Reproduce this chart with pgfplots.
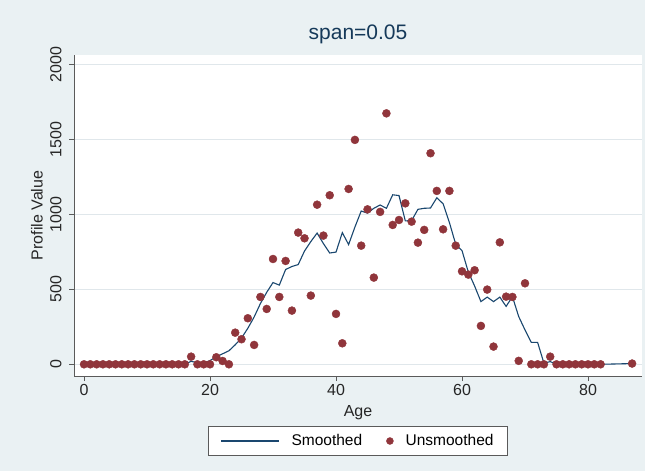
\documentclass[border=0pt]{standalone}
\usepackage{pgfplots}
\pgfplotsset{compat=1.18}
\usepackage{pgfplotstable}
\usepackage{fontspec}
\setmainfont{Liberation Sans}
\definecolor{bgc}{RGB}{234,241,243}
\definecolor{navyc}{RGB}{26,71,111}
\definecolor{maroonc}{RGB}{144,53,59}
\definecolor{gridc}{RGB}{224,231,235}
\definecolor{axc}{RGB}{90,90,90}

\pgfplotstableread{
age val
0 0
1 0
2 0
3 0
4 0
5 0
6 0
7 0
8 0
9 0
10 0
11 0
12 0
13 0
14 0
15 0
16 0
17 51
18 0
19 0
20 0
21 47
22 22
23 0
24 211
25 167
26 307
27 129
28 449
29 369
30 702
31 449
32 689
33 358
34 878
35 840
36 458
37 1064
38 858
39 1127
40 336
41 140
42 1169
43 1496
44 791
45 1033
46 578
47 1016
48 1673
49 929
50 962
51 1073
52 951
53 811
54 896
55 1407
56 1156
57 900
58 1156
59 791
60 620
61 598
62 627
63 256
64 498
65 118
66 813
67 451
68 449
69 23
70 540
71 0
72 0
73 0
74 51
75 0
76 0
77 0
78 0
79 0
80 0
81 0
82 0
87 5
}\unsmoothed

\pgfplotstableread{
age val
0 0
1 0
2 0
3 0
4 0
5 0
6 0
7 0
8 0
9 0
10 0
11 0
12 0
13 0
14 0
15 0
16 0
17 20
18 10
19 8
20 25
21 50
22 70
23 90
24 130
25 175
26 240
27 315
28 405
29 480
30 545
31 528
32 632
33 652
34 665
35 755
36 818
37 875
38 805
39 742
40 748
41 878
42 798
43 915
44 1022
45 1008
46 1040
47 1062
48 1040
49 1130
50 1125
51 956
52 958
53 1033
54 1040
55 1042
56 1110
57 1070
58 945
59 800
60 758
61 615
62 522
63 418
64 448
65 418
66 448
67 386
68 451
69 318
70 229
71 146
72 146
73 8
74 18
75 0
76 0
77 0
78 0
79 0
80 0
81 0
82 0
87 5
}\smoothed

\begin{document}
\begin{tikzpicture}[x=1pt,y=1pt]
\fill[bgc] (0,0) rectangle (645,471);
\begin{axis}[
  at={(74pt,95pt)}, anchor=south west,
  scale only axis, width=568pt, height=321pt,
  xmin=-1.59, xmax=88.57, ymin=-78, ymax=2062,
  axis background/.style={fill=white},
  axis x line*=bottom, axis y line*=left,
  axis line style={axc, line width=0.9pt, -},
  xtick={0,20,40,60,80}, ytick={0,500,1000,1500,2000},
  tick align=outside, major tick length=5pt,
  tick style={axc, line width=0.9pt},
  ymajorgrids, grid style={gridc, line width=0.8pt},
  /pgf/number format/assume math mode=true,
  /pgf/number format/1000 sep={},
  ticklabel style={font=\fontsize{16}{18}\selectfont, text=black!85},
  yticklabel style={rotate=90, anchor=south},
  yticklabel shift=4pt,
  xlabel={Age}, ylabel={Profile Value},
  label style={font=\fontsize{16}{18}\selectfont, text=black!85},
  xlabel style={at={(axis description cs:0.5,0)}, anchor=base, yshift=-40pt},
  ylabel style={at={(axis description cs:-0.0651,0.5)}, anchor=center},
  title={span=0.05},
  title style={at={(axis description cs:0.5,1)}, anchor=base, yshift=9pt, font=\fontsize{21}{24}\selectfont, text=navyc!80!black},
  legend style={at={(axis description cs:0.5,-0.2025)}, anchor=center, draw=axc, fill=white,
    font=\fontsize{15.5}{17}\selectfont, inner xsep=12pt, inner ysep=6pt},
  legend columns=2,
  legend cell align=left,
  /tikz/every odd column/.append style={column sep=10pt},
  /tikz/every even column/.append style={column sep=22pt},
]
\addplot[navyc, line width=1.1pt, legend image code/.code={\draw[navyc, line width=1.1pt](0pt,0pt)--(58pt,0pt);}] table[x=age,y=val] {\smoothed};
\addlegendentry{Smoothed}
\addplot[only marks, mark=*, mark size=4pt, color=maroonc, mark options={fill=maroonc, draw=maroonc}, legend image code/.code={\fill[maroonc](3.5pt,0pt) circle (3.5pt);}] table[x=age,y=val] {\unsmoothed};
\addlegendentry{Unsmoothed}
\end{axis}
\end{tikzpicture}
\end{document}
